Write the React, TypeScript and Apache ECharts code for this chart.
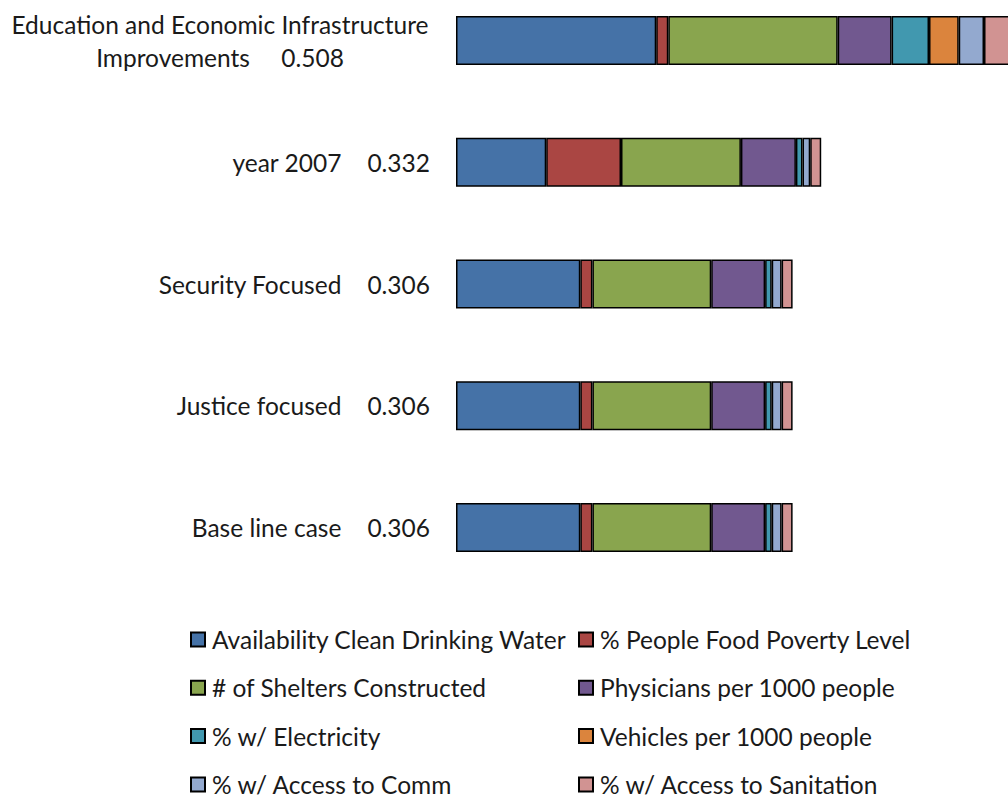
import React, { useEffect, useRef } from "react";
import * as echarts from "echarts";

const categories = [
  "Education and Economic Infrastructure Improvements",
  "year 2007",
  "Security Focused",
  "Justice focused",
  "Base line case",
];
const totals = ["0.508", "0.332", "0.306", "0.306", "0.306"];

const seriesNames = [
  "Availability Clean Drinking Water",
  "% People Food Poverty Level",
  "# of Shelters Constructed",
  "Physicians per 1000 people",
  "% w/ Electricity",
  "Vehicles per 1000 people",
  "% w/ Access to Comm",
  "% w/ Access to Sanitation",
];
const water = [0.182, 0.082, 0.113, 0.113, 0.113];
const food = [0.011, 0.068, 0.011, 0.011, 0.011];
const shelters = [0.154, 0.109, 0.108, 0.108, 0.108];
const physicians = [0.049, 0.05, 0.049, 0.049, 0.049];
const electricity = [0.034, 0.006, 0.006, 0.006, 0.006];
const vehicles = [0.027, 0, 0, 0, 0];
const comm = [0.023, 0.007, 0.009, 0.009, 0.009];
const sanitation = [0.028, 0.01, 0.01, 0.01, 0.01];

const seriesValues = [water, food, shelters, physicians, electricity, vehicles, comm, sanitation];
const colors = ["#4572A7", "#AA4643", "#89A54E", "#71588F", "#4198AF", "#DB843D", "#93A9CF", "#D19392"];

const FONT = "Lato";
const FS = 24.5;
const TEXT = "#1a1a1a";

export default function App() {
  const ref = useRef<HTMLDivElement>(null);
  useEffect(() => {
    if (!ref.current) return;
    const chart = echarts.init(ref.current, null, { renderer: "svg" });
    const legendBase = {
      orient: "vertical",
      top: 627,
      height: 220,
      padding: 0,
      itemGap: 23.3,
      itemWidth: 14,
      itemHeight: 14,
      icon: "rect",
      textStyle: { fontFamily: FONT, fontSize: FS, color: TEXT, lineHeight: 24, padding: [0, 0, 0, 2] },
    };
    chart.setOption({
      animation: false,
      color: colors,
      textStyle: { fontFamily: FONT },
      grid: { left: 456, top: 40.5, width: 552, height: 487 },
      xAxis: { type: "value", min: 0, max: 0.5018, show: false },
      yAxis: {
        type: "category",
        inverse: true,
        boundaryGap: false,
        data: categories,
        axisLine: { show: false },
        axisTick: { show: false },
        splitLine: { show: false },
        axisLabel: {
          margin: 26,
          fontFamily: FONT,
          fontSize: FS,
          color: TEXT,
          formatter: (v: string) => {
            const i = categories.indexOf(v);
            if (i === 0) {
              return "{c|Education and Economic Infrastructure}\n{c|Improvements     " + totals[i] + "}";
            }
            return "{n|" + v + "}{v|" + totals[i] + "}";
          },
          rich: {
            c: { width: 420, align: "center", fontFamily: FONT, fontSize: FS, color: TEXT, lineHeight: 33 },
            n: { fontFamily: FONT, fontSize: FS, color: TEXT },
            v: { fontFamily: FONT, fontSize: FS, color: TEXT, padding: [0, 0, 0, 26] },
          },
        },
      },
      legend: [
        { ...legendBase, left: 190, data: [0, 2, 4, 6].map((i) => seriesNames[i]) },
        { ...legendBase, left: 578, data: [1, 3, 5, 7].map((i) => seriesNames[i]) },
      ],
      series: seriesNames.map((name, k) => ({
        name,
        type: "bar",
        stack: "total",
        barWidth: 49,
        clip: false,
        itemStyle: { color: colors[k], borderColor: "#000", borderWidth: 1.5 },
        data: seriesValues[k].map((v) => (v === 0 ? "-" : v)),
      })),
    });
    return () => chart.dispose();
  }, []);
  return (
    <div
      ref={ref}
      style={{ position: "absolute", left: 0, top: 0, width: 1008, height: 800, background: "#fff" }}
    />
  );
}
